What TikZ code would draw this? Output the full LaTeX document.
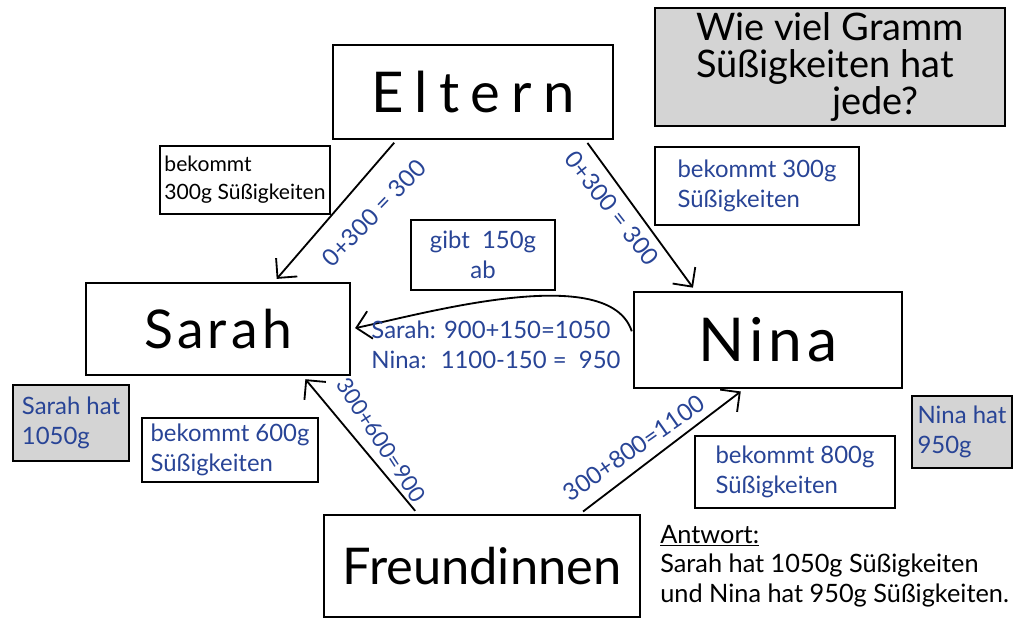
\documentclass[tikz,border=0pt]{standalone}
\usepackage{fontspec}
\setmainfont{Lato}
\newfontfamily\widehand[LetterSpace=20]{Lato}
\newfontfamily\lighthand[LetterSpace=8]{Lato}
\usetikzlibrary{arrows.meta}
\definecolor{penblue}{RGB}{40,68,150}
\definecolor{shade}{RGB}{212,212,212}
\begin{document}
\begin{tikzpicture}[x=0.025cm,y=-0.025cm,
    bigbox/.style={draw,line width=1.3pt,font=\fontsize{36}{40}\selectfont},
    notebox/.style={draw,line width=1.3pt,align=left,font=\fontsize{17}{21}\selectfont},
    shadebox/.style={notebox,fill=shade},
    calc/.style={text=penblue,font=\fontsize{17}{21}\selectfont},
    edge/.style={line width=1.3pt,-{Straight Barb[length=3.5mm,width=7mm]},shorten <=3pt,shorten >=3pt}]
  \useasboundingbox (0,0) rectangle (1021,621);
  % persons
  \node[bigbox,minimum width=7cm,minimum height=2.33cm,font=\widehand\fontsize{40}{44}\selectfont] (eltern) at (473,92) {Eltern};
  \node[bigbox,minimum width=6.6cm,minimum height=2.3cm,font=\lighthand\fontsize{38}{42}\selectfont] (sarah) at (218,329) {Sarah};
  \node[bigbox,minimum width=6.7cm,minimum height=2.4cm,font=\lighthand\fontsize{43}{46}\selectfont] (nina) at (768,340) {Nina};
  \node[bigbox,minimum width=7.9cm,minimum height=2.55cm] (freund) at (482,566) {Freundinnen};
  % question
  \node[shadebox,minimum width=8.75cm,minimum height=2.8cm,font=\fontsize{27}{26}\selectfont] (frage) at (830,67)
    {Wie viel Gramm\\Süßigkeiten hat\\\hspace*{3.4cm}jede?};
  % notes
  \node[notebox,minimum width=4.1cm,minimum height=1.7cm,font=\fontsize{15}{20}\selectfont] (b300l) at (245,180) {bekommt\\300g Süßigkeiten};
  \node[notebox,text=penblue,minimum width=5.1cm,minimum height=1.95cm] (b300r) at (757,186) {bekommt 300g\\Süßigkeiten};
  \node[notebox,text=penblue,align=center,minimum width=3.6cm,minimum height=1.75cm] (g150) at (483,255) {gibt \ 150g\\ab};
  \node[shadebox,text=penblue,minimum width=2.9cm,minimum height=1.9cm] (sarahhat) at (71,423) {Sarah hat\\1050g};
  \node[notebox,text=penblue,minimum width=4.4cm,minimum height=1.6cm] (b600) at (230,450) {bekommt 600g\\Süßigkeiten};
  \node[shadebox,text=penblue,minimum width=2.5cm,minimum height=1.8cm] (ninahat) at (962,432) {Nina hat\\950g};
  \node[notebox,text=penblue,minimum width=5cm,minimum height=1.8cm] (b800) at (795,472) {bekommt 800g\\Süßigkeiten};
  \node[anchor=north west,align=left,inner sep=0pt,font=\fontsize{18}{21}\selectfont] (antwort) at (660,525)
    {\underline{Antwort:}\\Sarah hat 1050g Süßigkeiten\\und Nina hat 950g Süßigkeiten.};
  % transfers
  \draw[edge] (eltern.-148) -- (sarah.40);
  \draw[edge] (eltern.-23) -- (nina.146);
  \draw[edge] (freund.141) -- (sarah.-29);
  \draw[edge] (freund.28) -- (nina.-116);
  \draw[edge] (nina.178) to[out=108,in=12,looseness=0.7] (sarah.east);
  % sums
  \node[calc,rotate=46] (s1) at (374,213) {0+300 = 300};
  \node[calc,rotate=-52] (s2) at (612,208) {0+300 = 300};
  \node[calc,rotate=-57,font=\fontsize{16}{20}\selectfont] (s3) at (381,440) {300+600=900};
  \node[calc,rotate=35] (s4) at (634,448) {300+800=1100};
  \node[calc,align=left] (rechnung) at (496,345)
    {Sarah: 900+150=1050\\Nina: \ 1100-150 = \ 950};
\end{tikzpicture}
\end{document}
